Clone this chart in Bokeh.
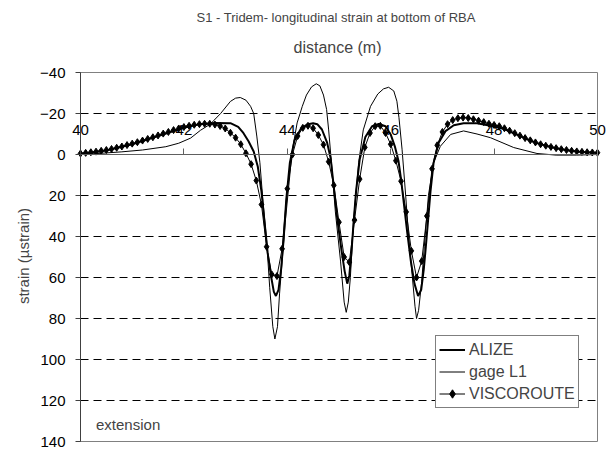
from bokeh.plotting import figure
from bokeh.models import (Range1d, LinearAxis, FixedTicker, Title, Label,
                          Legend, LegendItem)
from bokeh.embed import file_html
from bokeh.resources import INLINE

FONT = "Liberation Sans"

# ---------------- data ----------------
x_min, x_max = 40, 50
y_min, y_max = -40, 140
x_ticks = [40, 42, 44, 46, 48, 50]
y_ticks = [-40, -20, 0, 20, 40, 60, 80, 100, 120, 140]

# VISCOROUTE: sampled every 0.1 m from 40.0 to 50.0
visc_distance = [round(40.0 + 0.1 * i, 1) for i in range(101)]
visc_strain = [
    -0.5, -0.8, -1.1, -1.4, -1.8, -2.2, -2.7, -3.3, -3.9, -4.6,
    -5.3, -6.0, -6.8, -7.6, -8.4, -9.3, -10.2, -11.0, -11.9, -12.7,
    -13.4, -14.0, -14.5, -14.8, -15.0, -15.0, -14.6, -13.9, -12.7, -10.6,
    -8.2, -5.0, -0.6, 4.7, 12.7, 24.4, 45.0, 58.5, 59.3, 46.0,
    16.7, 0.0, -9.0, -13.0, -14.0, -12.8, -9.5, -4.8, 3.5, 15.0,
    33.0, 50.0, 52.5, 32.0, 12.0, -3.5, -10.5, -13.8, -14.0, -10.5,
    -5.0, 3.0, 13.0, 28.0, 47.0, 60.0, 52.0, 30.0, 7.0, -4.5,
    -11.0, -14.8, -16.8, -17.7, -18.0, -17.8, -17.2, -16.5, -15.8, -15.0,
    -14.4, -13.8, -12.8, -11.6, -10.4, -9.2, -8.0, -6.9, -5.9, -5.0,
    -4.3, -3.7, -3.1, -2.6, -2.2, -1.8, -1.5, -1.3, -1.1, -1.0,
    -0.9,
]

alize_distance = [
    40.0, 40.5, 41.0, 41.5, 42.0, 42.3, 42.6, 42.9, 43.05, 43.15,
    43.25, 43.35, 43.43, 43.5, 43.56, 43.62, 43.69, 43.74, 43.78, 43.83,
    43.88, 43.93, 43.98, 44.05, 44.14, 44.26, 44.38, 44.5, 44.58, 44.67,
    44.77, 44.84, 44.9, 44.97, 45.05, 45.11, 45.16, 45.2, 45.24, 45.28,
    45.33, 45.4, 45.51, 45.64, 45.77, 45.9, 46.0, 46.08, 46.15, 46.2,
    46.26, 46.32, 46.39, 46.46, 46.53, 46.59, 46.64, 46.68, 46.72, 46.77,
    46.83, 46.93, 47.06, 47.22, 47.41, 47.67, 47.93, 48.2, 48.5, 48.8,
    49.1, 49.4, 49.7, 50.0,
]
alize_strain = [
    -0.3, -2.0, -5.0, -9.0, -13.0, -14.8, -15.4, -15.3, -13.5, -10.5,
    -6.5, -1.5, 6.0, 18.0, 33.0, 48.0, 60.0, 67.0, 69.0, 66.0,
    56.0, 41.0, 22.0, 4.0, -7.0, -12.5, -14.6, -15.2, -14.8, -12.2,
    -5.8, 2.0, 16.0, 32.0, 47.0, 57.0, 63.0, 59.0, 48.0, 34.0,
    18.0, 2.5, -8.5, -13.8, -14.9, -13.8, -9.8, -4.0, 3.0, 12.0,
    25.0, 38.0, 52.0, 63.0, 69.0, 66.0, 56.0, 45.0, 33.0, 18.0,
    4.0, -5.8, -11.4, -14.3, -15.2, -15.2, -14.0, -12.4, -9.0, -5.8,
    -3.6, -2.1, -1.2, -0.7,
]

gage_distance = [
    40.0, 40.4, 40.8, 41.2, 41.65, 41.9, 42.13, 42.32, 42.51, 42.71,
    42.9, 43.0, 43.09, 43.2, 43.29, 43.35, 43.41, 43.47, 43.53, 43.6,
    43.66, 43.72, 43.76, 43.81, 43.85, 43.9, 43.96, 44.03, 44.09, 44.19,
    44.29, 44.37, 44.47, 44.56, 44.63, 44.7, 44.76, 44.8, 44.87, 44.93,
    45.03, 45.1, 45.14, 45.18, 45.22, 45.28, 45.38, 45.47, 45.61, 45.75,
    45.86, 45.96, 46.06, 46.12, 46.16, 46.22, 46.29, 46.35, 46.42, 46.47,
    46.5, 46.54, 46.6, 46.65, 46.73, 46.83, 46.96, 47.16, 47.41, 47.67,
    47.93, 48.38, 48.83, 49.2, 49.6, 50.0,
]
gage_strain = [
    0.0, -0.6, -1.3, -2.2, -3.8, -5.5, -8.0, -11.8, -14.8, -20.0,
    -25.9, -27.5, -27.8, -26.5, -23.5, -20.0, -9.0, 4.0, 23.0, 42.0,
    65.0, 84.0, 90.0, 84.0, 68.0, 52.0, 33.0, 15.0, -1.0, -15.4,
    -23.5, -29.0, -33.0, -34.5, -33.5, -29.0, -22.0, -12.0, 8.7, 28.0,
    52.0, 72.0, 77.0, 72.0, 60.0, 33.0, 4.0, -12.0, -23.5, -29.5,
    -32.0, -32.8, -31.0, -26.0, -18.0, -2.6, 20.0, 41.0, 60.0, 74.0,
    80.0, 76.0, 62.0, 45.0, 20.0, 4.0, -4.0, -9.8, -11.5, -10.0,
    -8.2, -3.4, -0.5, 0.3, 0.3, 0.0,
]

# ---------------- figure ----------------
# The frame is widened beyond the plot area (40-50 m, -40..140) so that the
# tick labels of the axes drawn at fixed locations are not clipped.
p = figure(width=613, height=450,
           x_range=Range1d(39.11, 50.31), y_range=Range1d(143.9, -44.88),
           x_axis_location=None, output_backend="svg", toolbar_location=None,
           min_border_left=34, min_border_right=0, min_border_top=62,
           min_border_bottom=1)
p.background_fill_color = "white"
p.border_fill_color = "white"
p.outline_line_color = None

# outer y axis: only carries the axis title
ya0 = p.yaxis[0]
ya0.ticker = FixedTicker(ticks=[])
ya0.axis_line_color = None
ya0.major_tick_out = 0
ya0.major_tick_in = 0
ya0.minor_tick_out = 0
ya0.minor_tick_in = 0
ya0.axis_label = "strain (\u00b5strain)"
ya0.axis_label_text_font = FONT
ya0.axis_label_text_font_style = "normal"
ya0.axis_label_text_font_size = "15px"
ya0.axis_label_standoff = 3

# y axis at distance = 40
ya = LinearAxis(fixed_location=x_min, ticker=FixedTicker(ticks=y_ticks),
                bounds=(y_min, y_max))
ya.major_label_text_font = FONT
ya.major_label_text_font_size = "15px"
ya.major_label_text_color = "black"
ya.major_label_standoff = 10
ya.axis_line_color = "#404040"
ya.major_tick_line_color = "#404040"
ya.major_tick_out = 5
ya.major_tick_in = 0
ya.minor_tick_out = 0
ya.minor_tick_in = 0
p.add_layout(ya, "left")

# plot-area border (right, top, bottom)
for loc, side, bnds in [(x_max, "right", (y_min, y_max)),
                        (y_min, "above", (x_min, x_max)),
                        (y_max, "below", (x_min, x_max))]:
    b = LinearAxis(fixed_location=loc, ticker=FixedTicker(ticks=[]),
                   bounds=bnds)
    b.axis_line_color = "#808080"
    b.major_tick_out = 0
    b.major_tick_in = 0
    b.minor_tick_out = 0
    b.minor_tick_in = 0
    b.major_label_text_color = None
    p.add_layout(b, side)

# horizontal dashed grid
p.xgrid.visible = False
p.ygrid.ticker = FixedTicker(ticks=[t for t in y_ticks if t != 0])
p.ygrid.grid_line_color = "black"
p.ygrid.grid_line_dash = "8 5"
p.ygrid.grid_line_width = 1
try:
    p.ygrid.cross_bounds = (x_min, x_max)
except Exception:
    pass

# x axis crossing at strain = 0 (ticks pointing up, labels above)
xa = LinearAxis(fixed_location=0, ticker=FixedTicker(ticks=x_ticks),
                bounds=(x_min, x_max))
xa.major_label_text_font = FONT
xa.major_label_text_font_size = "15px"
xa.major_label_text_color = "black"
xa.major_label_standoff = 14
xa.axis_line_color = "#606060"
xa.major_tick_line_color = "#606060"
xa.major_tick_out = 6
xa.major_tick_in = 0
xa.minor_tick_out = 0
xa.minor_tick_in = 0
p.add_layout(xa, "above")

# titles
p.add_layout(Title(text="distance (m)", align="left", text_font=FONT,
                   text_font_size="16px", text_font_style="normal",
                   standoff=13, offset=259), "above")
p.add_layout(Title(text="S1 - Tridem- longitudinal strain at bottom of RBA",
                   align="left", text_font=FONT, text_font_size="13px",
                   text_font_style="normal", standoff=12, offset=162), "above")

# series
r_alize = p.line(alize_distance, alize_strain, line_color="black", line_width=2)
r_gage = p.line(gage_distance, gage_strain, line_color="black", line_width=1)
r_visc_l = p.line(visc_distance, visc_strain, line_color="black", line_width=1)
r_visc_m = p.scatter(visc_distance, visc_strain, marker="diamond", size=7,
                     fill_color="black", line_color="black")

p.add_layout(Label(x=40.3, y=131.5, text="extension", text_font=FONT,
                   text_font_size="15px", text_baseline="middle",
                   text_align="left"))

legend = Legend(items=[
    LegendItem(label="ALIZE", renderers=[r_alize]),
    LegendItem(label="gage L1", renderers=[r_gage]),
    LegendItem(label="VISCOROUTE", renderers=[r_visc_l, r_visc_m]),
], location=(401, 41))
legend.label_text_font = FONT
legend.label_text_font_size = "16px"
legend.label_height = 21
legend.glyph_height = 21
legend.glyph_width = 26
legend.label_standoff = 4
legend.spacing = 1
legend.padding = 3
legend.margin = 0
legend.border_line_color = "black"
legend.border_line_width = 1
legend.background_fill_color = "white"
legend.background_fill_alpha = 1
p.add_layout(legend, "center")

open("out.html", "w").write(file_html(p, INLINE))
